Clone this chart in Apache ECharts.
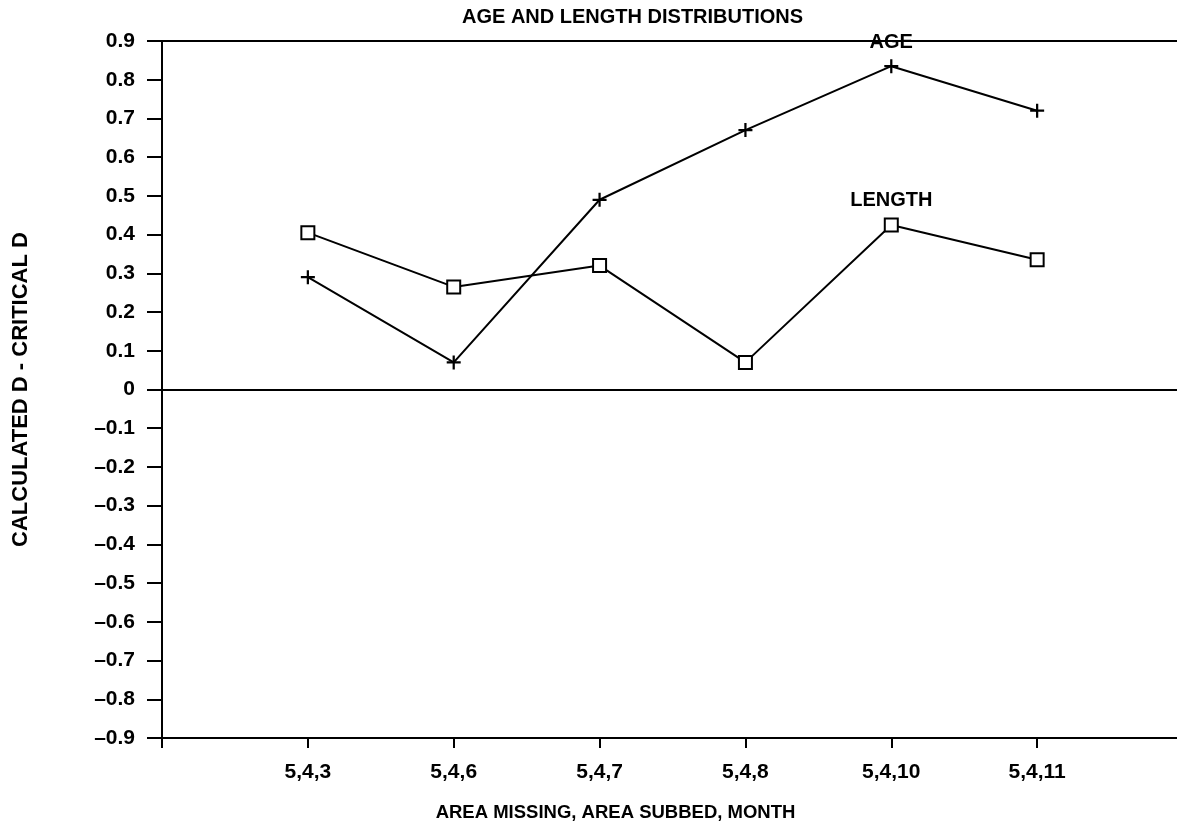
<!DOCTYPE html>
<html>
<head>
<meta charset="utf-8">
<script src="https://cdn.jsdelivr.net/npm/echarts@6/dist/echarts.min.js"></script>
<style>
html,body{margin:0;padding:0;background:#fff;}
#main{width:1177px;height:834px;}
</style>
</head>
<body>
<div id="main"></div>
<script>
const categories = ['5,4,3', '5,4,6', '5,4,7', '5,4,8', '5,4,10', '5,4,11'];
const ageValues = [0.29, 0.07, 0.49, 0.67, 0.835, 0.72];
const lengthValues = [0.405, 0.265, 0.32, 0.07, 0.425, 0.335];
const seriesNames = ['AGE', 'LENGTH'];
const labelCategory = '5,4,10';
const yMin = -0.9, yMax = 0.9, yStep = 0.1;
const refLines = [0, 0.9];

const FONT = 'Liberation Sans, Arial, Helvetica, sans-serif';
const chart = echarts.init(document.getElementById('main'), null, {renderer: 'canvas'});

function makeData(values, name) {
  return categories.map((c, i) => {
    const item = {value: [i + 1, values[i]]};
    if (c === labelCategory) {
      item.label = {show: true, formatter: name, position: 'top', distance: 7,
        color: '#000', fontFamily: FONT, fontWeight: 'bold', fontSize: 20};
    }
    return item;
  });
}

const crossPath = 'path://M4.2,0H5.8V10H4.2Z M0,4.2H10V5.8H0Z';

chart.setOption({
  animation: false,
  backgroundColor: '#fff',
  title: {
    text: 'AGE AND LENGTH DISTRIBUTIONS',
    left: 462, top: 7, padding: 0,
    textStyle: {color: '#000', fontFamily: FONT, fontWeight: 'bold', fontSize: 20}
  },
  grid: {left: 162, top: 41, width: 1021, height: 697, containLabel: false, outerBoundsMode: 'none'},
  xAxis: {
    type: 'value', min: 0, max: categories.length + 1, interval: 1,
    name: 'AREA MISSING, AREA SUBBED, MONTH',
    nameLocation: 'middle', nameGap: 65,
    nameTextStyle: {color: '#000', fontFamily: FONT, fontWeight: 'bold', fontSize: 18.5, padding: [0, 114, 0, 0]},
    axisLine: {show: true, onZero: false, lineStyle: {color: '#000', width: 2}},
    axisTick: {show: true, length: 10, lineStyle: {color: '#000', width: 2}},
    splitLine: {show: false},
    axisLabel: {
      margin: 24, color: '#000', fontFamily: FONT, fontWeight: 'bold', fontSize: 21,
      formatter: v => (v >= 1 && v <= categories.length) ? categories[Math.round(v) - 1] : ''
    }
  },
  yAxis: {
    type: 'value', min: yMin, max: yMax, interval: yStep,
    name: 'CALCULATED D - CRITICAL D',
    nameLocation: 'middle', nameGap: 130, nameRotate: 90,
    nameTextStyle: {color: '#000', fontFamily: FONT, fontWeight: 'bold', fontSize: 22},
    axisLine: {show: true, lineStyle: {color: '#000', width: 2}},
    axisTick: {show: true, length: 15, lineStyle: {color: '#000', width: 2}},
    splitLine: {show: false},
    axisLabel: {
      margin: 27, color: '#000', fontFamily: FONT, fontWeight: 'bold', fontSize: 21,
      formatter: v => Math.abs(v) < 1e-9 ? '0' : (v < 0 ? '\u2013' + Math.abs(v).toFixed(1) : v.toFixed(1))
    }
  },
  series: [
    {
      name: seriesNames[0], type: 'line',
      data: makeData(ageValues, seriesNames[0]),
      symbol: crossPath, symbolSize: 14, showAllSymbol: true,
      itemStyle: {color: '#000'},
      lineStyle: {color: '#000', width: 2},
      markLine: {
        silent: true, symbol: 'none', label: {show: false},
        lineStyle: {color: '#000', width: 2, type: 'solid'},
        data: refLines.map(v => ({yAxis: v}))
      },
      z: 3
    },
    {
      name: seriesNames[1], type: 'line',
      data: makeData(lengthValues, seriesNames[1]),
      symbol: 'emptyRect', symbolSize: 13, showAllSymbol: true,
      itemStyle: {color: '#000', borderColor: '#000', borderWidth: 2},
      lineStyle: {color: '#000', width: 2},
      z: 4
    }
  ]
});
</script>
</body>
</html>
